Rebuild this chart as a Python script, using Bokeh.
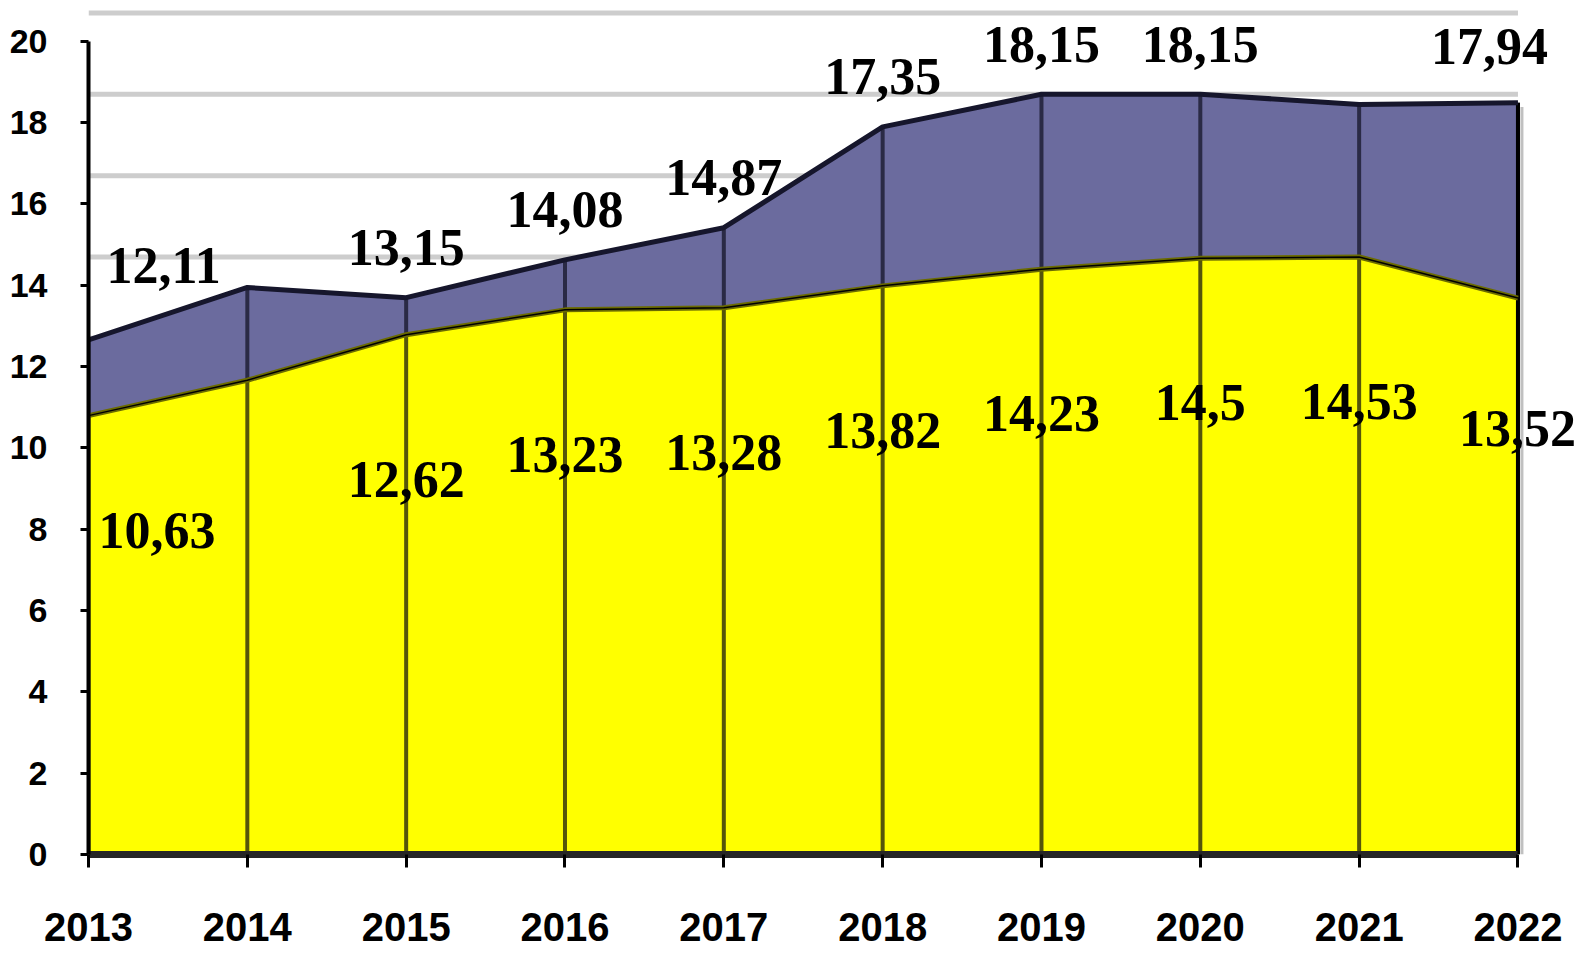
from bokeh.plotting import figure
from bokeh.models import ColumnDataSource, Range1d, FixedTicker
from bokeh.transform import dodge
from bokeh.core.properties import value
from bokeh.embed import file_html
from bokeh.resources import INLINE

# ---- data ----
years = [2013, 2014, 2015, 2016, 2017, 2018, 2019, 2020, 2021, 2022]
total = [12.11, 13.4, 13.15, 14.08, 14.87, 17.35, 18.15, 18.15, 17.9, 17.94]
yellow = [10.63, 11.5, 12.62, 13.23, 13.28, 13.82, 14.23, 14.5, 14.53, 13.52]
total_labeled = [True, False, True, True, True, True, True, True, False, True]
yellow_labeled = [True, False, True, True, True, True, True, True, True, True]
y_ticks = [0, 2, 4, 6, 8, 10, 12, 14, 16, 18, 20]

# ---- style (pseudo-3D depth shifts, in data units) ----
FRONT = 0.16
BACK = 0.54
WALL = 0.69
PX_PER_YEAR = 158.83
PX_PER_UNIT = 40.675
LEFT = 88
TOP = 8
FRAME_W = 1581 - LEFT
FRAME_H = 846


def fmt(v):
    return f"{v:g}".replace(".", ",")


src = ColumnDataSource(dict(x=years, total=total, yellow=yellow))
last = ColumnDataSource(dict(x=[years[-1]], total=[total[-1]], yellow=[yellow[-1]]))
grid_src = ColumnDataSource(dict(y=y_ticks))

p = figure(
    frame_width=FRAME_W, frame_height=FRAME_H,
    x_range=Range1d(years[0], years[0] + FRAME_W / PX_PER_YEAR),
    y_range=Range1d(0, FRAME_H / PX_PER_UNIT),
    output_backend="svg", toolbar_location=None,
    min_border_left=LEFT, min_border_right=0, min_border_top=TOP, min_border_bottom=98,
)
p.outline_line_color = None
p.xgrid.grid_line_color = None
p.ygrid.grid_line_color = None
p.background_fill_color = "white"
p.border_fill_color = "white"

# back wall gridlines
p.segment(x0=years[0], x1=years[-1], y0=dodge("y", WALL), y1=dodge("y", WALL),
          source=grid_src, line_color="#cdcdcd", line_width=5)

# right wall shadow
p.segment(x0=dodge("x", 0.025), x1=dodge("x", 0.025), y0=0, y1=dodge("total", BACK - 0.1),
          source=last, line_color="#c0c0c0", line_width=3)

# areas
p.varea(x="x", y1=0, y2=dodge("total", BACK), source=src, fill_color="#6B6B9E")
p.varea(x="x", y1=0, y2=dodge("yellow", FRONT), source=src, fill_color="#FFFF00")

# drop lines
p.segment(x0="x", x1="x", y0=dodge("yellow", FRONT), y1=dodge("total", BACK),
          source=src, line_color="#2a2a45", line_width=4)
p.segment(x0="x", x1="x", y0=0, y1=dodge("yellow", FRONT),
          source=src, line_color="#55550a", line_width=4)
p.segment(x0="x", x1="x", y0=0, y1=dodge("total", BACK),
          source=last, line_color="black", line_width=4)

# top edges
p.line(x="x", y=dodge("total", BACK), source=src, line_color="#16162c", line_width=5)
p.line(x="x", y=dodge("yellow", FRONT), source=src, line_color="#6b6b00", line_width=5)
p.line(x="x", y=dodge("yellow", FRONT), source=src, line_color="black", line_width=1.5)

# data labels
n = len(years)


def label_group(vals, shown, idxs, align, dx, dy):
    sel = [i for i in idxs if shown[i]]
    s = ColumnDataSource(dict(x=[years[i] for i in sel], y=[vals[i] for i in sel],
                              t=[fmt(vals[i]) for i in sel]))
    p.text(x="x", y="y", text="t", source=s, text_align=align, text_baseline="middle",
           x_offset=dx, y_offset=dy, text_font=value("Liberation Serif"),
           text_font_style="bold", text_font_size="52px", text_color="black")


label_group(total, total_labeled, [0], "left", 18, -96)
label_group(total, total_labeled, range(1, n - 1), "center", 0, -72)
label_group(total, total_labeled, [n - 1], "right", 30, -78)
label_group(yellow, yellow_labeled, [0], "left", 10, 108)
label_group(yellow, yellow_labeled, range(1, n - 1), "center", 0, 138)
label_group(yellow, yellow_labeled, [n - 1], "right", 58, 124)

# axes
ya = p.yaxis[0]
ya.ticker = FixedTicker(ticks=y_ticks)
ya.bounds = (0, 20)
ya.axis_line_color = "black"
ya.axis_line_width = 4
ya.major_tick_line_color = "black"
ya.major_tick_line_width = 3
ya.major_tick_out = 8
ya.major_tick_in = 0
ya.minor_tick_line_color = None
ya.major_label_standoff = 33
ya.major_label_text_font = "Liberation Sans"
ya.major_label_text_font_style = "bold"
ya.major_label_text_font_size = "34px"
ya.major_label_text_color = "black"

xa = p.xaxis[0]
xa.ticker = FixedTicker(ticks=years)
xa.bounds = (years[0], years[-1])
xa.axis_line_color = "#262626"
xa.axis_line_width = 7
xa.major_tick_line_color = "black"
xa.major_tick_line_width = 3
xa.major_tick_out = 13
xa.major_tick_in = 0
xa.minor_tick_line_color = None
xa.major_label_standoff = 45
xa.major_label_text_font = "Liberation Sans"
xa.major_label_text_font_style = "bold"
xa.major_label_text_font_size = "40px"
xa.major_label_text_color = "black"

open("out.html", "w").write(file_html(p, INLINE))
